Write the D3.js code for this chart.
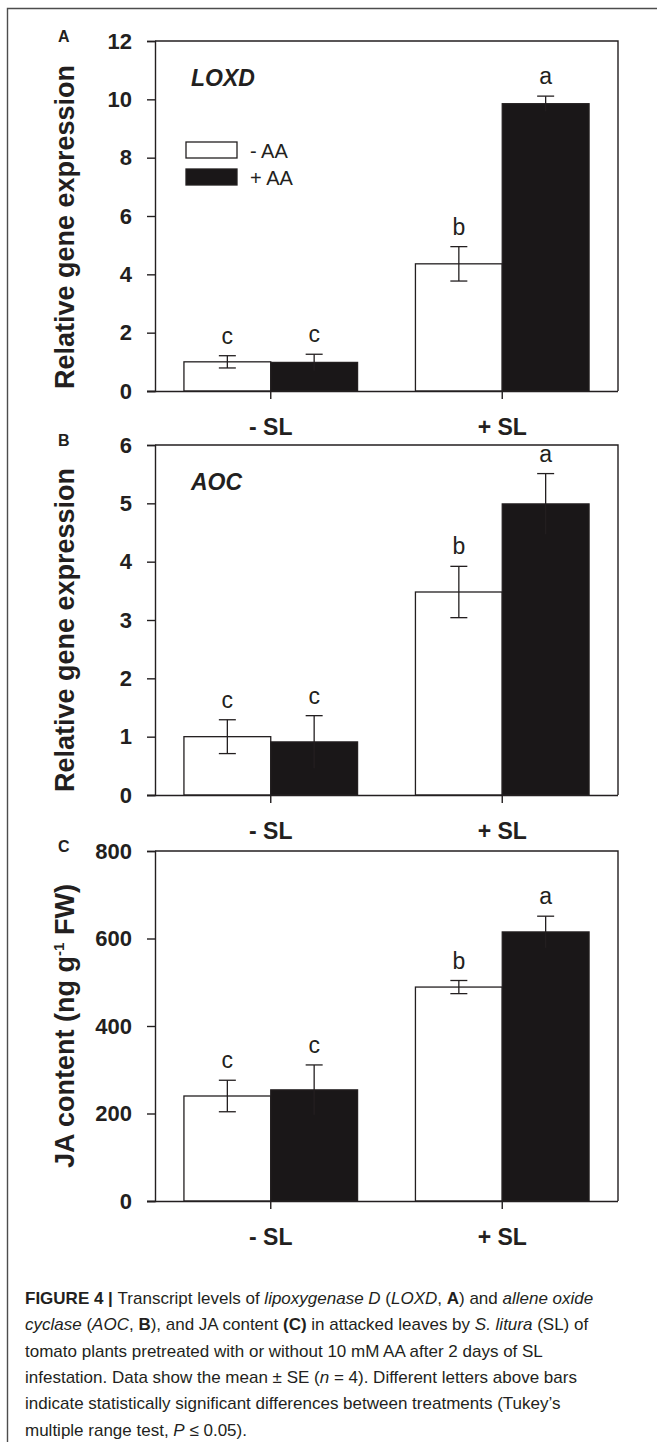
<!DOCTYPE html>
<html>
<head>
<meta charset="utf-8">
<script src="https://cdn.jsdelivr.net/npm/d3@7"></script>
<style>
  html, body { margin: 0; padding: 0; background: #fff; }
  svg { display: block; }
  text { font-family: "Liberation Sans", Arial, Helvetica, sans-serif; fill: #231f20; }
</style>
</head>
<body>
<svg id="chart" width="657" height="1442"></svg>
<script>
// ---------- data ----------
const groups = ["- SL", "+ SL"];
const seriesNames = ["- AA", "+ AA"];

const loxdMinusAA = [1.00, 4.36];
const loxdMinusAAErr = [0.21, 0.59];
const loxdPlusAA = [0.98, 9.85];
const loxdPlusAAErr = [0.28, 0.26];
const loxdLetters = [["c", "c"], ["b", "a"]];
const loxdTicks = [0, 2, 4, 6, 8, 10, 12];

const aocMinusAA = [1.00, 3.48];
const aocMinusAAErr = [0.29, 0.44];
const aocPlusAA = [0.91, 4.99];
const aocPlusAAErr = [0.45, 0.52];
const aocLetters = [["c", "c"], ["b", "a"]];
const aocTicks = [0, 1, 2, 3, 4, 5, 6];

const jaMinusAA = [240, 489];
const jaMinusAAErr = [36, 15];
const jaPlusAA = [254, 615];
const jaPlusAAErr = [57, 36];
const jaLetters = [["c", "c"], ["b", "a"]];
const jaTicks = [0, 200, 400, 600, 800];

// ---------- layout ----------
const svg = d3.select("#chart");
const INK = "#231f20";
const left = 155, right = 618;

const panels = [
  { tag: "A", title: "LOXD", top: 41, bottom: 391, ticks: loxdTicks,
    minus: loxdMinusAA, minusErr: loxdMinusAAErr, plus: loxdPlusAA, plusErr: loxdPlusAAErr,
    letters: loxdLetters, ylabel: "gene", labelShift: 11, legend: true },
  { tag: "B", title: "AOC", top: 445, bottom: 795, ticks: aocTicks,
    minus: aocMinusAA, minusErr: aocMinusAAErr, plus: aocPlusAA, plusErr: aocPlusAAErr,
    letters: aocLetters, ylabel: "gene", labelShift: 10, legend: false },
  { tag: "C", title: null, top: 851, bottom: 1201, ticks: jaTicks,
    minus: jaMinusAA, minusErr: jaMinusAAErr, plus: jaPlusAA, plusErr: jaPlusAAErr,
    letters: jaLetters, ylabel: "ja", labelShift: 0, legend: false }
];

// outer frame (top and left rules)
svg.append("path")
  .attr("d", "M657,8.5 H7.5 V1442")
  .attr("fill", "none").attr("stroke", "#4d4d4d").attr("stroke-width", 1.4);

panels.forEach(p => {
  const g = svg.append("g");
  const x0 = d3.scaleBand().domain(groups).range([left, right])
    .paddingInner(0.25).paddingOuter(0.125);
  const x1 = d3.scaleBand().domain(seriesNames).range([0, x0.bandwidth()]);
  const yMax = p.ticks[p.ticks.length - 1];
  const y = d3.scaleLinear().domain([0, yMax]).range([p.bottom, p.top]);

  const rows = [];
  groups.forEach((grp, i) => {
    rows.push({ grp, s: seriesNames[0], v: p.minus[i], e: p.minusErr[i], letter: p.letters[i][0] });
    rows.push({ grp, s: seriesNames[1], v: p.plus[i], e: p.plusErr[i], letter: p.letters[i][1] });
  });

  // bars
  g.selectAll("rect.bar").data(rows).join("rect")
    .attr("class", "bar")
    .attr("x", d => x0(d.grp) + x1(d.s))
    .attr("width", x1.bandwidth())
    .attr("y", d => y(d.v))
    .attr("height", d => y(0) - y(d.v))
    .attr("fill", d => d.s === seriesNames[0] ? "#fff" : "#1a1718")
    .attr("stroke", INK).attr("stroke-width", 1.3);

  // error bars
  const cap = 8.5;
  const eb = g.selectAll("g.err").data(rows).join("g").attr("class", "err")
    .attr("transform", d => `translate(${x0(d.grp) + x1(d.s) + x1.bandwidth() / 2},0)`);
  eb.append("line").attr("y1", d => y(d.v + d.e)).attr("y2", d => y(d.v - d.e))
    .attr("stroke", INK).attr("stroke-width", 1.3);
  eb.append("line").attr("x1", -cap).attr("x2", cap)
    .attr("y1", d => y(d.v + d.e)).attr("y2", d => y(d.v + d.e))
    .attr("stroke", INK).attr("stroke-width", 1.3);
  eb.filter(d => d.s === seriesNames[0]).append("line").attr("x1", -cap).attr("x2", cap)
    .attr("y1", d => y(d.v - d.e)).attr("y2", d => y(d.v - d.e))
    .attr("stroke", INK).attr("stroke-width", 1.3);
  // significance letters
  eb.append("text").attr("text-anchor", "middle")
    .attr("y", d => y(d.v + d.e) - 12)
    .style("font-size", "23px")
    .text(d => d.letter);

  // frame top/right
  g.append("path")
    .attr("d", `M${left},${p.top} H${right} V${p.bottom}`)
    .attr("fill", "none").attr("stroke", INK).attr("stroke-width", 1.4);

  // y axis
  const ya = g.append("g").attr("transform", `translate(${left},0)`)
    .call(d3.axisLeft(y).tickValues(p.ticks).tickSize(8).tickPadding(15).tickFormat(d3.format("d")));
  ya.select(".domain").attr("stroke", INK).attr("stroke-width", 1.4);
  ya.selectAll(".tick line").attr("stroke", INK).attr("stroke-width", 1.4);
  ya.selectAll(".tick text").attr("fill", INK)
    .style("font-size", "22px").style("font-weight", "bold")
    .style("font-family", '"Liberation Sans", Arial, sans-serif');

  // x axis
  const xa = g.append("g").attr("transform", `translate(0,${p.bottom})`)
    .call(d3.axisBottom(x0).tickSize(8).tickPadding(20).tickSizeOuter(0));
  xa.select(".domain").attr("d", `M${left - 8},0.5H${right}`)
    .attr("stroke", INK).attr("stroke-width", 1.4);
  xa.selectAll(".tick line").attr("stroke", INK).attr("stroke-width", 1.4);
  xa.selectAll(".tick text").attr("fill", INK).attr("dy", null).attr("y", 44)
    .style("font-size", "23px").style("font-weight", "bold")
    .style("font-family", '"Liberation Sans", Arial, sans-serif');

  // panel tag
  svg.append("text").attr("x", 58).attr("y", p.top + 0.5)
    .style("font-size", "16px").style("font-weight", "bold").text(p.tag);

  // gene title
  if (p.title) {
    svg.append("text").attr("x", 191).attr("y", p.top + 45)
      .style("font-size", "23px").style("font-weight", "bold").style("font-style", "italic")
      .text(p.title);
  }

  // y label
  const cy = (p.top + p.bottom) / 2 + p.labelShift;
  const yl = svg.append("text")
    .attr("transform", `translate(74,${cy}) rotate(-90)`)
    .attr("text-anchor", "middle")
    .style("font-size", "27px").style("font-weight", "bold");
  if (p.ylabel === "gene") {
    yl.text("Relative gene expression");
  } else {
    yl.append("tspan").text("JA content (ng g");
    yl.append("tspan").attr("dy", -10).style("font-size", "15px").text("-1");
    yl.append("tspan").attr("dy", 10).text(" FW)");
  }

  // legend
  if (p.legend) {
    const lg = svg.append("g");
    seriesNames.forEach((s, i) => {
      lg.append("rect").attr("x", 186).attr("y", 142 + i * 27).attr("width", 51).attr("height", 16)
        .attr("fill", i === 0 ? "#fff" : "#1a1718").attr("stroke", INK).attr("stroke-width", 1.3);
      lg.append("text").attr("x", 250).attr("y", 158 + i * 27)
        .style("font-size", "20px").text(s);
    });
  }
});

// ---------- caption ----------
const capLines = [
  [["FIGURE 4 | ", "b"], ["Transcript levels of ", ""], ["lipoxygenase D", "i"], [" (", ""], ["LOXD", "i"], [", ", ""], ["A", "b"], [") and ", ""], ["allene oxide", "i"]],
  [["cyclase", "i"], [" (", ""], ["AOC", "i"], [", ", ""], ["B", "b"], ["), and JA content ", ""], ["(C)", "b"], [" in attacked leaves by ", ""], ["S. litura", "i"], [" (SL) of", ""]],
  [["tomato plants pretreated with or without 10 mM AA after 2 days of SL", ""]],
  [["infestation. Data show the mean \u00B1 SE (", ""], ["n", "i"], [" = 4). Different letters above bars", ""]],
  [["indicate statistically significant differences between treatments (Tukey\u2019s", ""]],
  [["multiple range test, ", ""], ["P", "i"], [" \u2264 0.05).", ""]]
];
const capG = svg.append("g");
capLines.forEach((line, i) => {
  const t = capG.append("text").attr("x", 25).attr("y", 1304 + i * 26.3)
    .style("font-size", "17px").style("font-family", '"Liberation Sans", Arial, sans-serif');
  line.forEach(([s, st]) => {
    const ts = t.append("tspan").text(s);
    if (st === "b") ts.style("font-weight", "bold");
    if (st === "i") ts.style("font-style", "italic");
  });
});
</script>
</body>
</html>
